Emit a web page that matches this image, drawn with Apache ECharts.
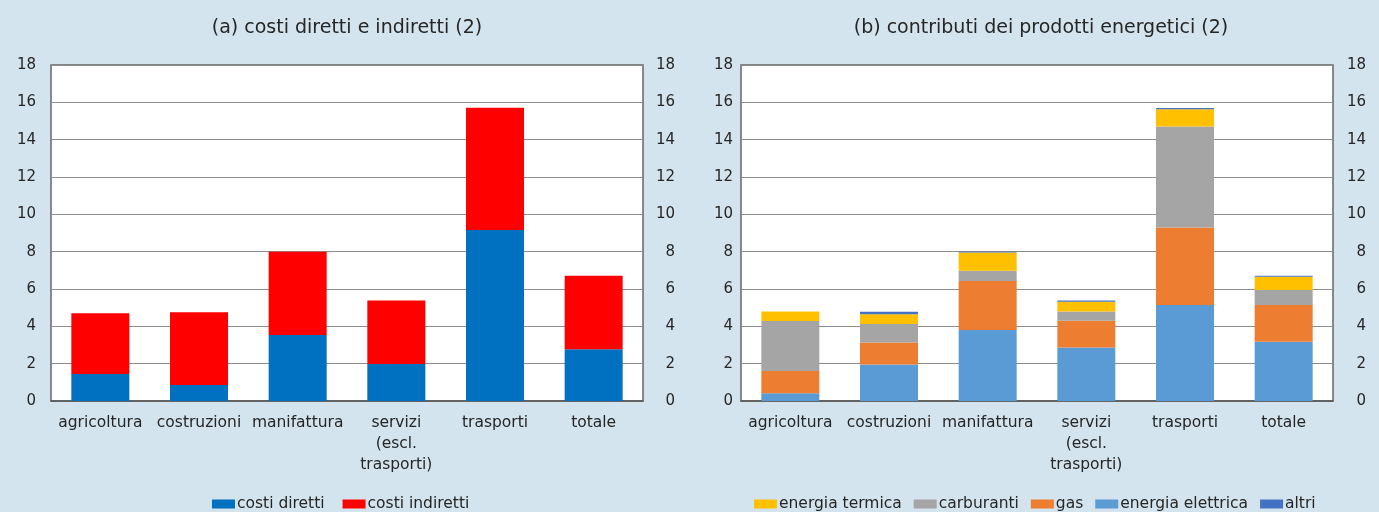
<!DOCTYPE html>
<html>
<head>
<meta charset="utf-8">
<script src="https://cdn.jsdelivr.net/npm/echarts@6/dist/echarts.min.js"></script>
<style>
html,body{margin:0;padding:0;background:#d3e4ee;}
#c{width:1379px;height:512px;}
</style>
</head>
<body>
<div id="c"></div>
<script>
const categories = ['agricoltura', 'costruzioni', 'manifattura', 'servizi\n(escl.\ntrasporti)', 'trasporti', 'totale'];
const yTicks = {min: 0, max: 18, interval: 2};

// panel (a)
const costiDiretti   = [1.45, 0.86, 3.54, 1.98, 9.16, 2.77];
const costiIndiretti = [3.25, 3.89, 4.46, 3.40, 6.55, 3.94];

// panel (b)
const energiaElettrica = [0.41, 1.96, 3.80, 2.86, 5.14, 3.18];
const gas              = [1.20, 1.17, 2.63, 1.44, 4.15, 1.96];
const carburanti       = [2.68, 0.99, 0.55, 0.49, 5.41, 0.81];
const energiaTermica   = [0.50, 0.53, 0.97, 0.53, 0.93, 0.71];
const altri            = [-0.08, 0.13, 0.05, 0.07, 0.07, 0.05];

const FONT = 'DejaVu Sans';
const TXT = '#262626';

function yAxis(gridIndex, pos, margin, showSplit) {
  return {
    type: 'value', gridIndex: gridIndex, position: pos,
    min: yTicks.min, max: yTicks.max, interval: yTicks.interval,
    axisLine: {show: false}, axisTick: {show: false},
    axisLabel: {color: TXT, fontFamily: FONT, fontSize: 15, margin: margin, align: 'right', padding: [3, 0, 0, 0]},
    splitLine: {show: showSplit, lineStyle: {color: '#8c8c8c', width: 1}}
  };
}
function xAxis(gridIndex) {
  return {
    type: 'category', gridIndex: gridIndex, data: categories,
    axisLine: {show: true, lineStyle: {color: '#555', width: 1.5}},
    axisTick: {show: false},
    axisLabel: {interval: 0, color: TXT, fontFamily: FONT, fontSize: 15.5, lineHeight: 21, margin: 11}
  };
}
function bar(name, data, color, xi, yi, stack) {
  return {name: name, type: 'bar', stack: stack, xAxisIndex: xi, yAxisIndex: yi,
    data: data, barWidth: 58, itemStyle: {color: color}, emphasis: {disabled: true}};
}

const chart = echarts.init(document.getElementById('c'), null, {renderer: 'canvas'});
chart.setOption({
  backgroundColor: '#d3e4ee',
  animation: false,
  title: [
    {text: '(a) costi diretti e indiretti (2)', left: 342, top: 14, textAlign: 'center',
     textStyle: {fontFamily: FONT, fontSize: 19, fontWeight: 'normal', color: TXT}},
    {text: '(b) contributi dei prodotti energetici (2)', left: 1036, top: 14, textAlign: 'center',
     textStyle: {fontFamily: FONT, fontSize: 19, fontWeight: 'normal', color: TXT}}
  ],
  legend: [
    {data: ['costi diretti', 'costi indiretti'], left: 207, top: 491, icon: 'rect',
     itemWidth: 23, itemHeight: 9, itemGap: 18,
     textStyle: {fontFamily: FONT, fontSize: 15.5, color: TXT, padding: [0, 0, 0, -3]}},
    {data: ['energia termica', 'carburanti', 'gas', 'energia elettrica', 'altri'], left: 749, top: 491, icon: 'rect',
     itemWidth: 23, itemHeight: 9, itemGap: 12,
     textStyle: {fontFamily: FONT, fontSize: 15.5, color: TXT, padding: [0, 0, 0, -3]}}
  ],
  grid: [
    {left: 51, right: 736, top: 65, bottom: 111, show: true, backgroundColor: '#ffffff', borderColor: '#666', borderWidth: 1.5},
    {left: 741, right: 46, top: 65, bottom: 111, show: true, backgroundColor: '#ffffff', borderColor: '#666', borderWidth: 1.5}
  ],
  xAxis: [xAxis(0), xAxis(1)],
  yAxis: [
    yAxis(0, 'left', 15, true), yAxis(0, 'right', 32, false),
    yAxis(1, 'left', 8, true), yAxis(1, 'right', 33, false)
  ],
  series: [
    bar('costi diretti', costiDiretti, '#0070c0', 0, 0, 'a'),
    bar('costi indiretti', costiIndiretti, '#ff0000', 0, 0, 'a'),
    bar('energia elettrica', energiaElettrica, '#5b9bd5', 1, 2, 'b'),
    bar('gas', gas, '#ed7d31', 1, 2, 'b'),
    bar('carburanti', carburanti, '#a5a5a5', 1, 2, 'b'),
    bar('energia termica', energiaTermica, '#ffc000', 1, 2, 'b'),
    bar('altri', altri, '#4472c4', 1, 2, 'b')
  ]
});
</script>
</body>
</html>
